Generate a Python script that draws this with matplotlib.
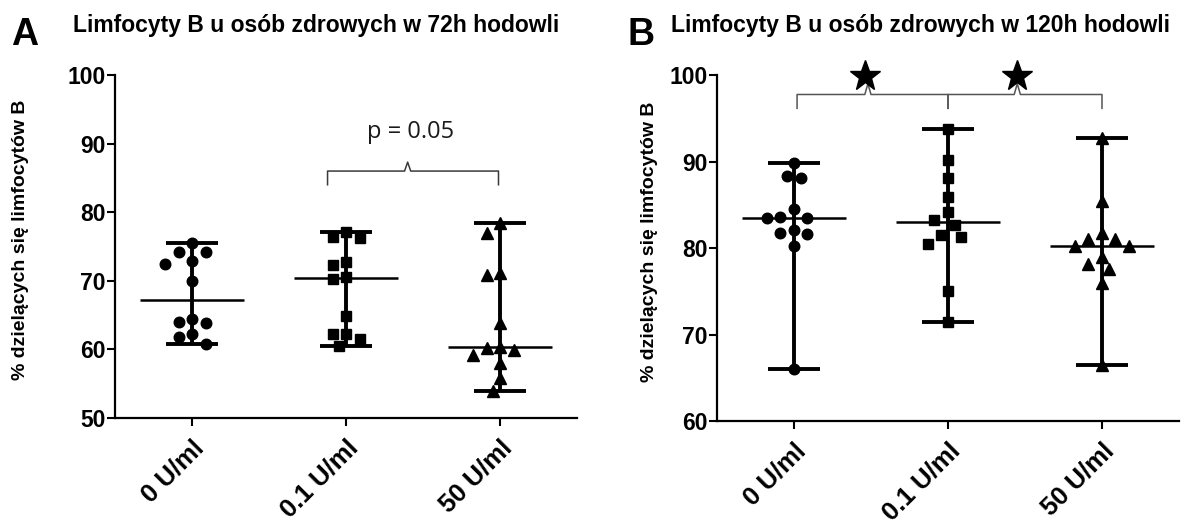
import numpy as np
import matplotlib
matplotlib.use("Agg")
import matplotlib.pyplot as plt

plt.rcParams['font.family'] = ['Liberation Sans', 'DejaVu Sans']

# ----------------------------
# DATA (% of dividing B lymphocytes)
# ----------------------------
groups = ["0 U/ml", "0.1 U/ml", "50 U/ml"]

b72_0 = [75.5, 74.2, 74.15, 72.9, 72.5, 70.0, 64.5, 64.0, 63.8, 62.2, 61.8, 60.8]
b72_01 = [77.1, 76.4, 76.2, 72.8, 72.3, 70.6, 70.3, 64.9, 62.3, 62.3, 61.5, 60.5]
b72_50 = [78.4, 77.0, 71.2, 70.85, 63.9, 60.4, 60.2, 59.9, 59.2, 58.0, 55.9, 54.0]

b120_0 = [89.8, 88.3, 88.1, 84.5, 83.6, 83.5, 83.5, 82.1, 81.7, 81.6, 80.2, 66.05]
b120_01 = [93.8, 90.2, 88.1, 85.95, 84.2, 83.25, 82.7, 81.45, 81.25, 80.45, 75.05, 71.4]
b120_50 = [92.7, 85.4, 81.7, 81.1, 81.1, 80.2, 80.2, 79.0, 78.1, 77.6, 76.0, 66.5]

p_label = "p = 0.05"
ylab = "% dzielących się limfocytów B"
title_72 = "Limfocyty B u osób zdrowych w 72h hodowli"
title_120 = "Limfocyty B u osób zdrowych w 120h hodowli"

markers = ["o", "s", "^"]
msizes = [7.6, 7.6, 8.4]


def swarm_offsets(ax, values, diam):
    # greedy beeswarm, done in pixel space, returns offsets in data x units
    vals = np.asarray(values, dtype=float)
    yp = ax.transData.transform(np.column_stack([np.zeros(len(vals)), vals]))[:, 1]
    px_per_x = ax.transData.transform([[1, 0]])[0, 0] - ax.transData.transform([[0, 0]])[0, 0]
    step = diam / 2.0
    cands = [0.0]
    for k in range(1, 30):
        cands += [-k * step, k * step]
    placed = []
    offs = np.zeros(len(vals))
    for i in np.argsort(-vals, kind="stable"):
        for c in cands:
            if all((c - qx) ** 2 + (yp[i] - qy) ** 2 >= diam ** 2 for qx, qy in placed):
                placed.append((c, yp[i]))
                offs[i] = c / px_per_x
                break
    return offs


def scatter_median_range(ax, data):
    for i, vals in enumerate(data):
        v = np.asarray(vals)
        lo, hi, med = v.min(), v.max(), np.median(v)
        ax.plot([i, i], [lo, hi], color="black", lw=2.8, solid_capstyle="butt", zorder=2)
        for y in (lo, hi):
            ax.plot([i - 0.17, i + 0.17], [y, y], color="black", lw=2.8,
                    solid_capstyle="butt", zorder=2)
        ax.plot([i - 0.34, i + 0.34], [med, med], color="black", lw=1.8,
                solid_capstyle="butt", zorder=2)
        offs = swarm_offsets(ax, v, 13.5)
        ax.plot(i + offs, v, linestyle="none", marker=markers[i], ms=msizes[i],
                color="black", zorder=3, clip_on=False)


def brace(ax, x0, x1, xm, y, drop, rise, color="#3a3a3a"):
    xs = [x0, x0, xm - 0.02, xm, xm + 0.02, x1, x1]
    ys = [y - drop, y, y, y + rise, y, y, y - drop]
    ax.plot(xs, ys, color=color, lw=1.1, clip_on=False, zorder=1)


def style_axes(ax, ylim):
    ax.set_xlim(-0.5, 2.5)
    ax.set_ylim(*ylim)
    ax.set_yticks(np.arange(ylim[0], ylim[1] + 1, 10))
    ax.set_xticks(range(len(groups)))
    ax.set_xticklabels(groups, rotation=45, ha="right", va="top",
                       rotation_mode="anchor", fontsize=18.5, fontweight="bold")
    for lab in ax.get_yticklabels():
        lab.set_fontweight("bold")
        lab.set_fontsize(16.5)
    ax.spines["top"].set_visible(False)
    ax.spines["right"].set_visible(False)
    ax.spines["left"].set_linewidth(1.6)
    ax.spines["bottom"].set_linewidth(1.6)
    ax.tick_params(axis="both", length=5.5, width=1.5, color="black")
    ax.tick_params(axis="y", pad=1.5)
    ax.tick_params(axis="x", pad=7)


fig = plt.figure(figsize=(11.81, 5.21), dpi=100)
ax1 = fig.add_axes([0.0974, 0.1977, 0.3912, 0.6583])
ax2 = fig.add_axes([0.6071, 0.1919, 0.3912, 0.6641])

# ---- 72h ----
style_axes(ax1, (50, 100))
scatter_median_range(ax1, [b72_0, b72_01, b72_50])
brace(ax1, 0.88, 1.99, 1.40, 86.0, 2.0, 1.3)
ax1.text(1.42, 91.7, p_label, ha="center", va="center", fontsize=17,
         family=["Open Sans", "DejaVu Sans"], color="#1a1a1a")

# ---- 120h ----
style_axes(ax2, (60, 100))
scatter_median_range(ax2, [b120_0, b120_01, b120_50])
brace(ax2, 0.02, 1.0, 0.48, 97.75, 1.6, 1.25, color="#555555")
brace(ax2, 1.0, 2.0, 1.45, 97.75, 1.6, 1.25, color="#555555")
ax2.plot([0.46, 1.45], [99.9, 99.9], linestyle="none", marker="*", ms=23,
         color="black", clip_on=False, zorder=4)

# ---- titles, panel letters, y labels ----
fig.text(11 / 1181, 1 - 45 / 521, "A", fontsize=27, fontweight="bold", va="baseline")
fig.text(628 / 1181, 1 - 45 / 521, "B", fontsize=27, fontweight="bold", va="baseline")
fig.text(73 / 1181, 1 - 32 / 521, title_72, fontsize=16.5, fontweight="bold", va="baseline")
fig.text(671 / 1181, 1 - 32 / 521, title_120, fontsize=16.5, fontweight="bold", va="baseline")
fig.text(21 / 1181, 1 - 240 / 521, ylab, rotation=90, fontsize=14, fontweight="bold",
         ha="center", va="center")
fig.text(649 / 1181, 1 - 242 / 521, ylab, rotation=90, fontsize=14, fontweight="bold",
         ha="center", va="center")

fig.savefig("out.png", dpi=100)
